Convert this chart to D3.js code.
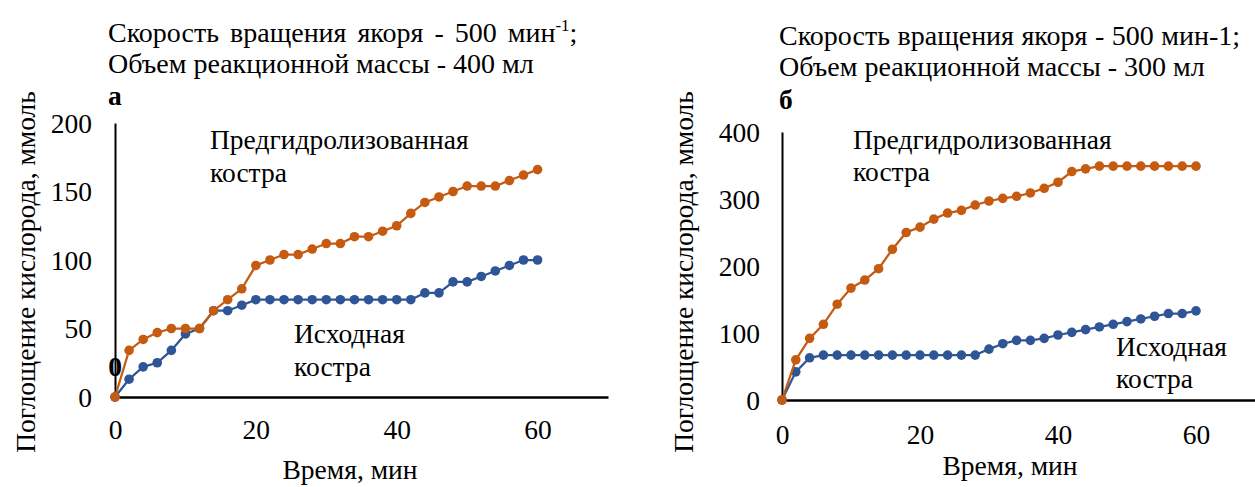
<!DOCTYPE html>
<html><head><meta charset="utf-8">
<script src="https://cdn.jsdelivr.net/npm/d3@7"></script>
<style>
html,body{margin:0;padding:0;background:#fff;}
svg text{font-family:'Liberation Serif','Times New Roman',serif !important;}
</style></head>
<body><svg id="c" width="1255" height="487" font-family="Liberation Serif"></svg>
<script>
// ---- data ----
const timeMin = [0,2,4,6,8,10,12,14,16,18,20,22,24,26,28,30,32,34,36,38,40,42,44,46,48,50,52,54,56,58,60];
// chart а (400 мл)
const preA  = [0,34,42,47,50,50,50,63,71,79,96,100,104,104,108,112,112,117,117,121,125,134,142,146,150,154,154,154,158,162,166];
const origA = [0,13,22,25,34,46,50,63,63,67,71,71,71,71,71,71,71,71,71,71,71,71,76,76,84,84,88,92,96,100,100];
// chart б (300 мл)
const preB  = [0,60,92,113,143,167,179,196,225,250,258,270,279,283,291,297,301,304,309,316,325,341,345,349,349,349,349,349,349,349,349];
const origB = [0,42,63,67,67,67,67,67,67,67,67,67,67,67,67,76,84,89,89,92,97,101,105,109,113,117,121,125,129,129,133];
const xTicks = [0,20,40,60];
const yTicksA = [0,50,100,150,200];
const yTicksB = [0,100,200,300,400];
const titleLine1 = "Скорость вращения якоря - 500 мин";
const titleLine2A = "Объем реакционной массы - 400 мл";
const titleLine2B = "Объем реакционной массы - 300 мл";
const labelPre = ["Предгидролизованная","костра"];
const labelOrig = ["Исходная","костра"];
const yTitle = "Поглощение кислорода, ммоль";
const xTitle = "Время, мин";

const ORANGE = "#C55A11", BLUE = "#2F5597";
const FS = 27.5, TFS = 28;
const FONT = "Liberation Serif";
const svg = d3.select("#c");

function txt(sel){ return sel.attr("font-family",FONT).style("font-family","'Liberation Serif'").attr("fill","#000"); }

function drawChart(cfg){
  const g = svg.append("g");
  const x = d3.scaleLinear().domain([0,70]).range([cfg.x0, cfg.x70]);
  const y = d3.scaleLinear().domain([0,cfg.ymax]).range([cfg.y0, cfg.ytop]);

  const ya = d3.axisLeft(y).tickValues(cfg.yTicks).tickSize(0).tickPadding(cfg.yPad);
  const yg = g.append("g").attr("transform",`translate(${cfg.x0},0)`).call(ya).attr("font-family",FONT);
  yg.select(".domain").attr("stroke","#000").attr("stroke-width",2);
  txt(yg.selectAll("text")).attr("font-size",FS).attr("dy","0.34em");

  const xa = d3.axisBottom(x).tickValues(xTicks).tickSize(0).tickPadding(cfg.xPad);
  const xg = g.append("g").attr("transform",`translate(0,${cfg.y0})`).call(xa).attr("font-family",FONT);
  xg.select(".domain").attr("stroke","#000").attr("stroke-width",2.5);
  txt(xg.selectAll("text")).attr("font-size",FS);

  const line = d3.line().x((d,i)=>x(timeMin[i])).y(d=>y(d));
  [[cfg.orig,BLUE],[cfg.pre,ORANGE]].forEach(([vals,col])=>{
    g.append("path").datum(vals).attr("d",line).attr("fill","none").attr("stroke",col).attr("stroke-width",2.25);
    g.selectAll(null).data(vals).enter().append("circle")
      .attr("cx",(d,i)=>x(timeMin[i])).attr("cy",d=>y(d)).attr("r",4.8).attr("fill",col);
  });

  const t1 = txt(g.append("text")).attr("x",cfg.tx).attr("y",cfg.t1y).attr("font-size",TFS)
    .attr("word-spacing",cfg.ws).text(titleLine1);
  if(cfg.sup){
    t1.append("tspan").attr("font-size",17).attr("dy",-11).text("-1");
    t1.append("tspan").attr("dy",11).text(";");
  } else {
    t1.append("tspan").text("-1;");
  }
  txt(g.append("text")).attr("x",cfg.tx).attr("y",cfg.t2y).attr("font-size",TFS).text(cfg.line2);
  txt(g.append("text")).attr("x",cfg.tx).attr("y",cfg.t3y).attr("font-size",FS).attr("font-weight","bold").text(cfg.letter);

  labelPre.forEach((s,i)=>txt(g.append("text")).attr("x",cfg.preX).attr("y",cfg.preY+i*cfg.lh).attr("font-size",FS).text(s));
  labelOrig.forEach((s,i)=>txt(g.append("text")).attr("x",cfg.origX).attr("y",cfg.origY+i*cfg.lh).attr("font-size",FS).text(s));

  txt(g.append("text")).attr("transform",`translate(${cfg.ytx},${cfg.yty}) rotate(-90)`).attr("text-anchor","middle")
    .attr("dy","0.35em").attr("font-size",FS).text(yTitle);
  txt(g.append("text")).attr("x",cfg.xtx).attr("y",cfg.xty).attr("text-anchor","middle").attr("font-size",FS).text(xTitle);
  return {x,y,g};
}

const A = drawChart({x0:115,x70:608,y0:397,ytop:123,ymax:200,yTicks:yTicksA,yPad:23,xPad:22,
  pre:preA,orig:origA,tx:108,t1y:42,t2y:73,t3y:105,sup:true,ws:4,line2:titleLine2A,letter:"а",
  preX:210,preY:149,origX:294,origY:343,lh:33,ytx:25,yty:272,xtx:350,xty:479});
txt(A.g.append("text")).attr("x",A.x(0)).attr("y",A.y(22)).attr("text-anchor","middle").attr("dy","0.34em")
  .attr("font-size",FS).attr("font-weight","bold").text("0");

drawChart({x0:782,x70:1265,y0:400,ytop:132,ymax:400,yTicks:yTicksB,yPad:22,xPad:24,
  pre:preB,orig:origB,tx:779,t1y:45,t2y:76,t3y:109,sup:false,ws:0.5,line2:titleLine2B,letter:"б",
  preX:853,preY:149,origX:1116,origY:356,lh:32,ytx:683,yty:272,xtx:1010,xty:475});
</script></body></html>
